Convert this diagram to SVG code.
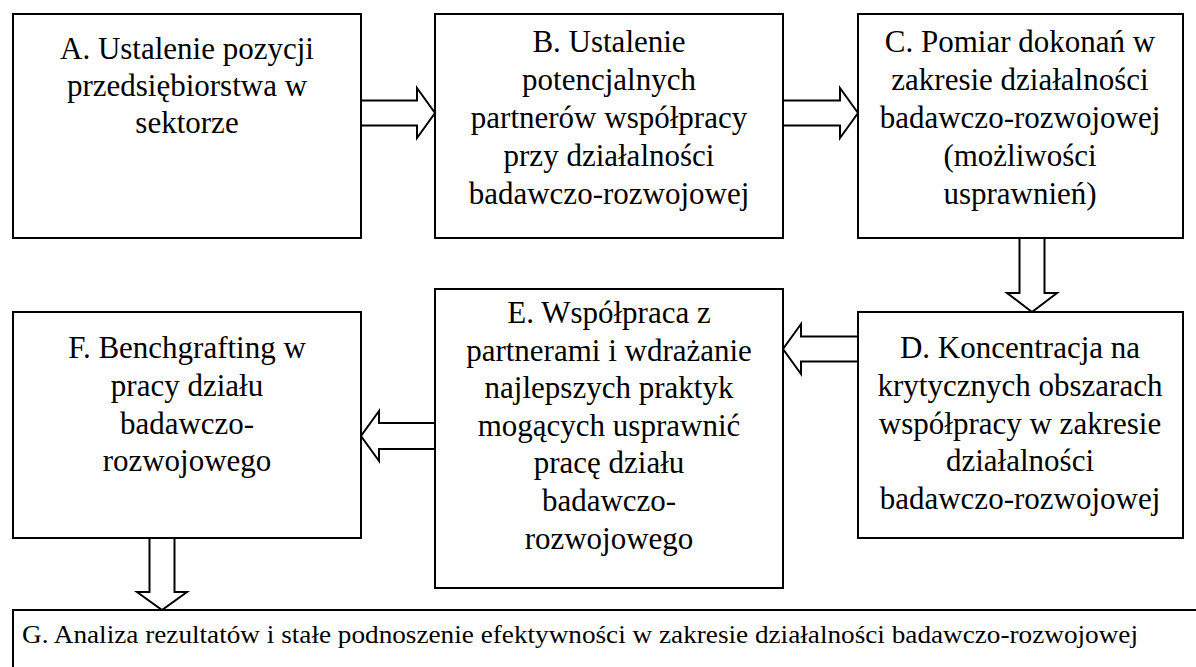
<svg xmlns="http://www.w3.org/2000/svg" width="1196" height="667" viewBox="0 0 1196 667">
<style>
.box{fill:#fff;stroke:#000;stroke-width:2}
.arr{fill:#fff;stroke:#000;stroke-width:2;stroke-linejoin:miter}
.t{font-family:'Liberation Serif','Times New Roman',Tinos,'DejaVu Serif',serif;font-size:31px;fill:#000;text-anchor:middle}
.g{font-family:'Liberation Serif','Times New Roman',Tinos,'DejaVu Serif',serif;font-size:25px;fill:#000}
</style>
<rect width="1196" height="667" fill="#fff"/>
<g id="connectors">
<polygon class="arr" points="361,100.5 417,100.5 417,88 435,113 417,138 417,125.5 361,125.5"/>
<polygon class="arr" points="783,100.5 840,100.5 840,88 858,113 840,138 840,125.5 783,125.5"/>
<polygon class="arr" points="1019.5,238 1044.5,238 1044.5,293 1057,293 1032,312 1007,293 1019.5,293"/>
<polygon class="arr" points="858,336.5 801,336.5 801,324 783,349 801,374 801,361.5 858,361.5"/>
<polygon class="arr" points="435,423 379,423 379,411 361,436 379,461 379,449 435,449"/>
<polygon class="arr" points="149.5,538 174.5,538 174.5,592 187,592 162,610 137,592 149.5,592"/>
</g>
<g id="nodeA">
<rect class="box" x="13" y="14" width="348" height="224"/>
<text class="t" x="187" y="59">A. Ustalenie pozycji</text>
<text class="t" x="187" y="96">przedsiębiorstwa w</text>
<text class="t" x="187" y="133">sektorze</text>
</g>
<g id="nodeB">
<rect class="box" x="435" y="14" width="348" height="224"/>
<text class="t" x="609" y="52">B. Ustalenie</text>
<text class="t" x="609" y="90">potencjalnych</text>
<text class="t" x="609" y="128">partnerów współpracy</text>
<text class="t" x="609" y="166">przy działalności</text>
<text class="t" x="609" y="204">badawczo-rozwojowej</text>
</g>
<g id="nodeC">
<rect class="box" x="858" y="14" width="325" height="224"/>
<text class="t" x="1020" y="52">C. Pomiar dokonań w</text>
<text class="t" x="1020" y="90">zakresie działalności</text>
<text class="t" x="1020" y="128">badawczo-rozwojowej</text>
<text class="t" x="1020" y="166">(możliwości</text>
<text class="t" x="1020" y="204">usprawnień)</text>
</g>
<g id="nodeD">
<rect class="box" x="858" y="312" width="325" height="226"/>
<text class="t" x="1020" y="358">D. Koncentracja na</text>
<text class="t" x="1020" y="396">krytycznych obszarach</text>
<text class="t" x="1020" y="434">współpracy w zakresie</text>
<text class="t" x="1020" y="471">działalności</text>
<text class="t" x="1020" y="509">badawczo-rozwojowej</text>
</g>
<g id="nodeE">
<rect class="box" x="435" y="289" width="348" height="299"/>
<text class="t" x="609" y="323">E. Współpraca z</text>
<text class="t" x="609" y="361">partnerami i wdrażanie</text>
<text class="t" x="609" y="398">najlepszych praktyk</text>
<text class="t" x="609" y="436">mogących usprawnić</text>
<text class="t" x="609" y="473">pracę działu</text>
<text class="t" x="609" y="511">badawczo-</text>
<text class="t" x="609" y="549">rozwojowego</text>
</g>
<g id="nodeF">
<rect class="box" x="13" y="312" width="348" height="226"/>
<text class="t" x="187" y="358">F. Benchgrafting w</text>
<text class="t" x="187" y="396">pracy działu</text>
<text class="t" x="187" y="434">badawczo-</text>
<text class="t" x="187" y="471">rozwojowego</text>
</g>
<g id="nodeG">
<rect class="box" x="13" y="610" width="1200" height="100"/>
<text class="g" x="22" y="643" textLength="1116" lengthAdjust="spacingAndGlyphs">G. Analiza rezultatów i stałe podnoszenie efektywności w zakresie działalności badawczo-rozwojowej</text>
</g>
</svg>
